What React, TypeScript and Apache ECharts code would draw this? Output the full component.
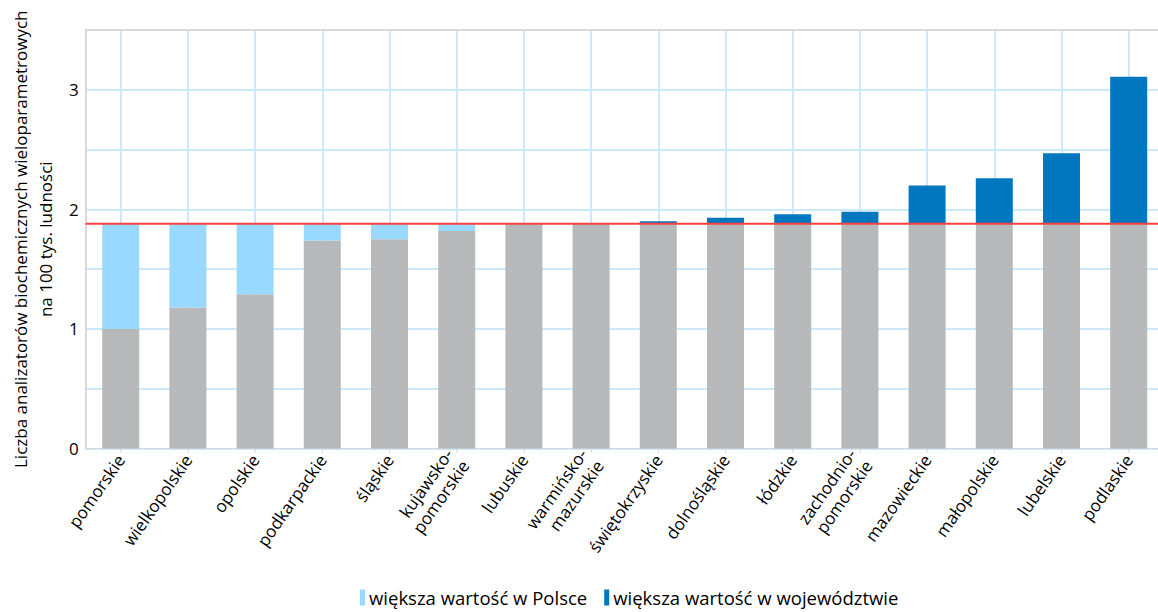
import React, { useEffect, useRef } from 'react';
import * as echarts from 'echarts';

const categories = [
  'pomorskie', 'wielkopolskie', 'opolskie', 'podkarpackie', 'śląskie',
  'kujawsko-\npomorskie', 'lubuskie', 'warmińsko-\nmazurskie', 'świętokrzyskie',
  'dolnośląskie', 'łódzkie', 'zachodnio-\npomorskie', 'mazowieckie',
  'małopolskie', 'lubelskie', 'podlaskie',
];
const values = [1.0, 1.18, 1.29, 1.74, 1.75, 1.82, 1.88, 1.88, 1.9, 1.93, 1.96, 1.98, 2.2, 2.26, 2.47, 3.11];
const polandAverage = 1.88;
const seriesNames = ['większa wartość w Polsce', 'większa wartość w województwie'];
const yTickLabels = [0, 1, 2, 3];
const yAxisTitle = 'Liczba analizatorów biochemicznych wieloparametrowych\nna 100 tys. ludności';

const FONT = '"Open Sans", sans-serif';
const GRID_COLOR = '#cbe9fb';
const AXIS_COLOR = '#d9d9d9';

export default function App() {
  const ref = useRef<HTMLDivElement>(null);
  useEffect(() => {
    if (!ref.current) return;
    const chart = echarts.init(ref.current, null, { renderer: 'svg' });
    const base = values.map((v) => Math.min(v, polandAverage));
    const below = values.map((v) => (v < polandAverage ? +(polandAverage - v).toFixed(3) : '-'));
    const above = values.map((v) => (v > polandAverage ? +(v - polandAverage).toFixed(3) : '-'));
    chart.setOption({
      animation: false,
      textStyle: { fontFamily: FONT },
      grid: [
        { left: 80, right: 0, top: 30, bottom: 163.5 },
        { left: 120.7, right: 29.3, top: 30, bottom: 163.5 },
      ],
      legend: {
        data: seriesNames,
        left: 355,
        bottom: 0,
        icon: 'rect',
        itemWidth: 5,
        itemHeight: 16,
        itemGap: 17,
        textStyle: { fontSize: 18.5, color: '#000', fontFamily: FONT, padding: [0, 0, 0, -1] },
      },
      xAxis: [
        {
          type: 'value', gridIndex: 0, min: 0, max: 1, position: 'bottom',
          axisLine: { show: true, lineStyle: { color: AXIS_COLOR, width: 1 } },
          axisTick: { show: false }, axisLabel: { show: false }, splitLine: { show: false },
        },
        {
          type: 'category', gridIndex: 1, data: categories, boundaryGap: false,
          axisLine: { show: false },
          axisTick: { show: true, length: 4, lineStyle: { color: AXIS_COLOR } },
          axisLabel: {
            rotate: 55, fontSize: 17, color: '#000', margin: 8, interval: 0,
            fontFamily: FONT, lineHeight: 20,
          },
          splitLine: { show: true, lineStyle: { color: GRID_COLOR, width: 2 } },
        },
        {
          type: 'value', gridIndex: 0, min: 0, max: 1, position: 'top',
          axisLine: { show: true, lineStyle: { color: AXIS_COLOR, width: 2 } },
          axisTick: { show: false }, axisLabel: { show: false }, splitLine: { show: false },
        },
      ],
      yAxis: [
        {
          type: 'value', gridIndex: 0, min: 0, max: 3.5, interval: 0.5,
          axisLine: { show: true, lineStyle: { color: AXIS_COLOR, width: 2 } },
          axisTick: { show: false },
          axisLabel: {
            fontSize: 17, color: '#000', margin: 7, fontFamily: FONT,
            formatter: (v: number) => (yTickLabels.includes(v) ? String(v) : ''),
          },
          splitLine: { show: true, lineStyle: { color: GRID_COLOR, width: 2 } },
          name: yAxisTitle,
          nameLocation: 'middle',
          nameRotate: 90,
          nameGap: 26,
          nameTextStyle: { fontSize: 17, color: '#000', lineHeight: 25, fontFamily: FONT },
        },
        { type: 'value', gridIndex: 1, min: 0, max: 3.5, show: false },
      ],
      series: [
        {
          name: 'base', type: 'bar', stack: 'total', xAxisIndex: 1, yAxisIndex: 1,
          data: base, barWidth: 37, clip: false,
          itemStyle: { color: '#b7b8ba' }, z: 2,
        },
        {
          name: seriesNames[0], type: 'bar', stack: 'total', xAxisIndex: 1, yAxisIndex: 1,
          data: below, barWidth: 37, clip: false,
          itemStyle: { color: '#99d9ff' }, z: 2,
        },
        {
          name: seriesNames[1], type: 'bar', stack: 'total', xAxisIndex: 1, yAxisIndex: 1,
          data: above, barWidth: 37, clip: false,
          itemStyle: { color: '#0077bf' }, z: 2,
        },
        {
          name: 'średnia', type: 'line', xAxisIndex: 0, yAxisIndex: 0,
          data: [[0, polandAverage], [1, polandAverage]],
          symbol: 'none', lineStyle: { color: '#ff4040', width: 2 }, z: 5,
          silent: true,
        },
      ],
    });
    return () => chart.dispose();
  }, []);
  return (
    <div
      ref={ref}
      style={{ position: 'absolute', left: 0, top: 0, width: 1158, height: 612, background: '#fff' }}
    />
  );
}
